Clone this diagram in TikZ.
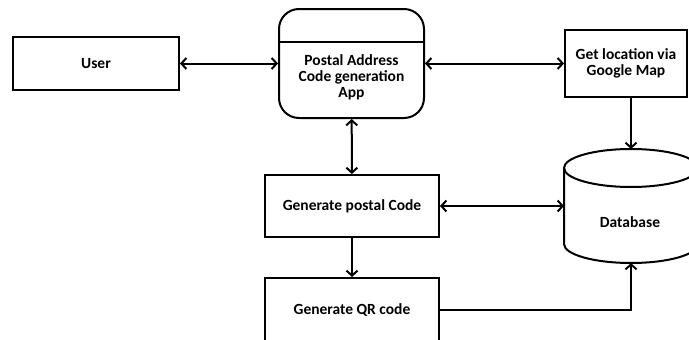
\documentclass[tikz,border=0pt]{standalone}
\usepackage{fontspec}
\setmainfont{Carlito}
\usetikzlibrary{
    arrows.meta,
    calc
}
\tikzset{
  box/.style={
    draw,
    rectangle,
    align=center,
    inner sep=1.5pt,
    font=\bfseries\fontsize{15.5}{16}\selectfont
  },
  txt/.style={
    align=center,
    inner sep=1.5pt,
    font=\bfseries\fontsize{15.5}{16}\selectfont
  },
  link/.style={-{Straight Barb[length=5pt,width=11pt]}},
  dlink/.style={{Straight Barb[length=5pt,width=11pt]}-{Straight Barb[length=5pt,width=11pt]}}
}

\begin{document}
\begin{tikzpicture}[x=1pt,y=-1pt,line width=2pt]

    \useasboundingbox (0,0) rectangle (689,340);
    \clip (0,0) rectangle (689,340);

    %-------------------------
    % top row
    %-------------------------
    \node[box, minimum width=166, minimum height=53] (user) at (96,63.5) {User};

    \node[draw, rounded corners=20pt, minimum width=145, minimum height=109] (app) at (351.5,63.5) {};
    \draw (app.west |- 0,42) -- (app.east |- 0,42);
    \node[txt] (apptxt) at (351.5,77) {Postal Address\\Code generation\\App};

    \node[box, minimum width=122, minimum height=67] (map) at (626,63.5) {Get location via\\Google Map};

    %-------------------------
    % database
    %-------------------------
    \draw (564,168) -- (564,244) arc[start angle=180, end angle=0, x radius=67, y radius=19]
          -- (698,168);
    \draw (631,168) ellipse[x radius=67, y radius=19];
    \coordinate (dbtop) at (631,149);
    \coordinate (dbbot) at (631,263);
    \coordinate (dbleft) at (564,206);
    \node[txt] (db) at (630,222) {Database};

    %-------------------------
    % left column
    %-------------------------
    \node[box, minimum width=174, minimum height=62] (postal) at (352,206) {Generate postal Code};
    \node[box, minimum width=174, minimum height=64] (qr) at (352,310) {Generate QR code};

    \draw[dlink] (user) -- (app);
    \draw[dlink] (app) -- (map);
    \draw[link] (map.south -| dbtop) -- (dbtop);
    \draw[dlink] (app) -- (postal);
    \draw[link] (postal) -- (qr);
    \draw[dlink] (postal) -- (dbleft);
    \draw[link] (qr.east) -- (qr.east -| dbbot) -- (dbbot);

\end{tikzpicture}
\end{document}
